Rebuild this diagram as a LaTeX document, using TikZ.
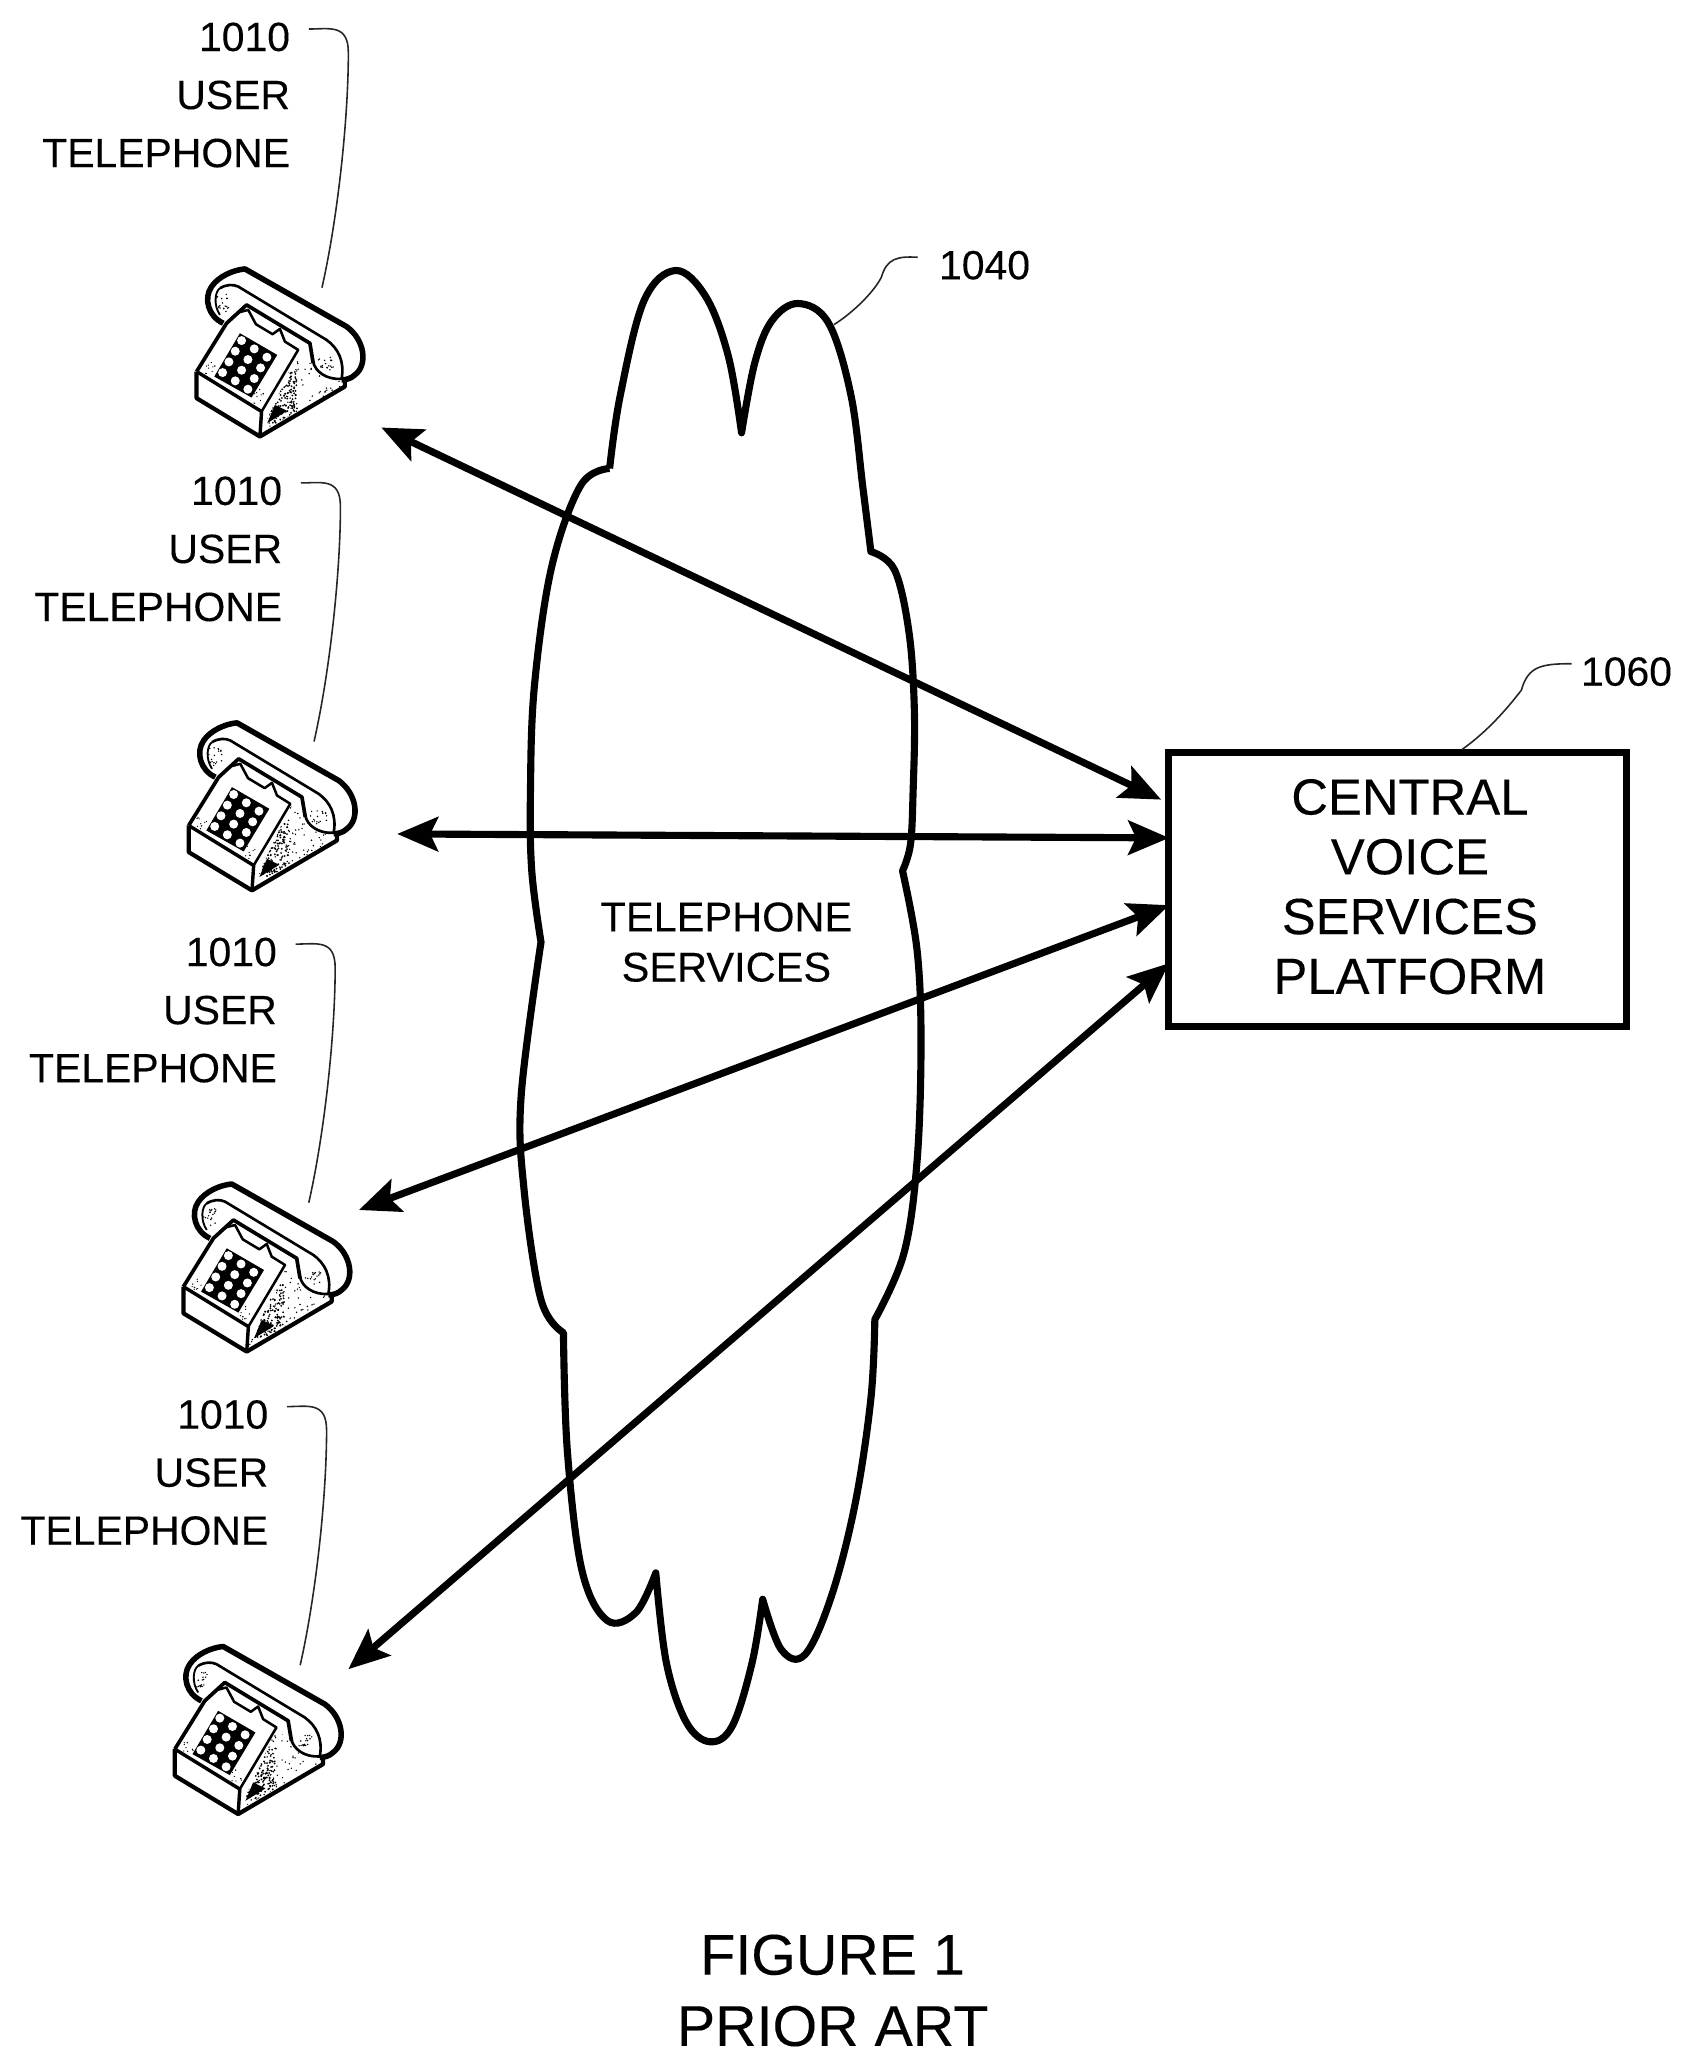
\documentclass[tikz,border=0pt]{standalone}
\usepackage{fontspec}
\setmainfont[FakeBold=0.2]{Liberation Sans}
\usetikzlibrary{arrows.meta}
\tikzset{
  lbl/.style={align=right,anchor=east,inner sep=0pt,font=\fontsize{31}{44}\selectfont},
  reftxt/.style={anchor=west,inner sep=0pt,font=\fontsize{31}{36}\selectfont},
  leader/.style={line width=1.2pt,black!85},
  dbl/.style={line width=5.4pt,{Stealth[length=31pt,width=26pt,inset=6pt]}-{Stealth[length=31pt,width=26pt,inset=6pt]}},
  platform/.style={draw,line width=5.4pt,minimum width=347pt,minimum height=208pt,inner sep=0pt,align=center,font=\fontsize{38.5}{45.3}\selectfont},
  phone/.pic={
    \begin{scope}[scale=0.2525]
      % shaded right face
      \begin{scope}
        \clip (275,530) -- (385,290) -- (430,330) -- (450,360) -- (515,378) -- (515,395) -- cycle;
        \foreach \k in {1,...,150}{
          \pgfmathsetmacro\ra{rnd}\pgfmathsetmacro\rb{rnd}
          \fill (275+240*\ra,290+240*\rb) circle (2.4pt);
        }
        \foreach \k in {1,...,170}{
          \pgfmathsetmacro\ra{rnd}\pgfmathsetmacro\rb{rnd}
          \fill (292+90*\ra,345+160*\rb) circle (3pt);
        }
      \end{scope}
      \fill (292,505) -- (315,450) -- (352,468) -- cycle;
      % faint specks on the dial panel and base
      \foreach \k in {1,...,10}{
        \pgfmathsetmacro\ra{rnd}\pgfmathsetmacro\rb{rnd}
        \fill (105+30*\ra,320+40*\rb) circle (2pt);
        \fill (250+30*\ra,400+50*\rb) circle (2pt);
      }
      % base
      \draw[line width=3.2pt,line join=round]
        (80,350) -- (80,430) -- (270,545) -- (525,395) -- (525,372);
      \draw[line width=2.8pt,line join=round]
        (80,350) -- (170,205) -- (230,150) -- (420,265) -- (430,325);
      \draw[line width=2.6pt,line join=round] (80,350) -- (275,470) -- (270,545);
      \draw[line width=1.9pt,line join=round] (275,470) -- (385,285) -- (345,260) -- (330,222) -- (308,238) -- (258,208) -- (235,165) -- (208,172) -- (190,185);
      % handset
      \draw[line width=4.2pt,line join=round]
        (160,205) .. controls (115,185) and (100,130) .. (125,95)
        .. controls (145,65) and (190,45) .. (225,42)
        -- (530,215) .. controls (585,255) and (595,330) .. (555,360)
        .. controls (545,370) and (530,375) .. (515,375);
      \draw[line width=2pt,line join=round]
        (150,100) .. controls (170,88) and (190,88) .. (205,95)
        -- (470,255) .. controls (505,280) and (525,320) .. (515,372)
        .. controls (470,375) and (435,350) .. (430,320);
      \draw[line width=1.4pt] (150,100) .. controls (135,110) and (130,150) .. (150,180);
      \foreach \k in {1,...,18}{
        \pgfmathsetmacro\ra{rnd}\pgfmathsetmacro\rb{rnd}
        \fill (140+40*\ra,115+55*\rb) circle (2.4pt);
        \fill (445+50*\ra,305+40*\rb) circle (2.4pt);
      }
      % keypad
      \fill[line join=round] (210,235) -- (322,300) -- (245,428) -- (133,365) -- cycle;
      \foreach \r in {0,...,3}{\foreach \c in {0,...,2}{
        \fill[white] (215+38*\c-19*\r,257+25*\c+32*\r) circle (13.5pt);
      }}
    \end{scope}
  }
}
\begin{document}
\begin{tikzpicture}[x=1pt,y=-1pt]
\useasboundingbox (0,0) rectangle (1280,1566.5);
\pgfmathsetseed{4711}

% cloud
\draw[line width=5.4pt,line join=round]
  plot[smooth,tension=0.6] coordinates {(462,355) (470,300) (488,228) (512,205) (535,225) (552,270) (562,328)}
  -- plot[smooth,tension=0.6] coordinates {(562,328) (572,275) (585,243) (605,230) (628,245) (645,300) (654,370) (660,418)}
  -- plot[smooth,tension=0.6] coordinates {(660,418) (678,432) (689,480) (693,540) (692,600) (690,640) (684,660)}
  -- plot[smooth,tension=0.6] coordinates {(684,660) (695,720) (698,790) (695,880) (685,950) (663,1000)}
  -- plot[smooth,tension=0.6] coordinates {(663,1000) (660,1060) (648,1140) (630,1210) (610,1254) (592,1250) (578,1212)}
  -- plot[smooth,tension=0.6] coordinates {(578,1212) (570,1260) (555,1308) (538,1320) (520,1305) (505,1260) (497,1192)}
  -- plot[smooth,tension=0.6] coordinates {(497,1192) (482,1222) (460,1228) (441,1190) (430,1100) (427,1010)}
  -- plot[smooth,tension=0.6] coordinates {(427,1010) (410,985) (397,900) (395,830) (410,714)}
  -- plot[smooth,tension=0.6] coordinates {(410,714) (403,660) (402,600) (405,520) (418,430) (440,368) (462,355)};
\node[inner sep=0pt,align=center,font=\fontsize{31.5}{38}\selectfont] (svc) at (550.5,714) {TELEPHONE\\SERVICES};

% telephones and their labels
\foreach \i/\dx/\dy in {1/0/0,2/-6/344,3/-10/693.5,4/-16.5/1044}{
  \begin{scope}[shift={(\dx,\dy)}]
    \node[lbl] (lab\i) at (220,72) {1010\\USER\\TELEPHONE};
    \coordinate (ls\i) at (234,22);
    \coordinate (le\i) at (244,218);
    \draw[leader] (ls\i) .. controls (250,22) and (264,18) .. (264,40)
      .. controls (264,90) and (256,165) .. (le\i);
    \pic at (128.8,193.2) {phone};
  \end{scope}
}

% platform
\node[platform] (cvsp) at (1059,674) {};
\node[inner sep=0pt,align=center,font=\fontsize{38.5}{45.3}\selectfont] (cvsptxt) at (1068.5,672) {CENTRAL\\VOICE\\SERVICES\\PLATFORM};

% arrow ends
\coordinate (t1) at (289,324); \coordinate (p1) at (880,606);
\coordinate (t2) at (301,632); \coordinate (p2) at (886,635);
\coordinate (t3) at (272,917); \coordinate (p3) at (886,686);
\coordinate (t4) at (264,1265); \coordinate (p4) at (886,730);
\draw[dbl] (t1) -- (p1);
\draw[dbl] (t2) -- (p2);
\draw[dbl] (t3) -- (p3);
\draw[dbl] (t4) -- (p4);

% reference numerals
\node[reftxt] (r1040) at (711.5,201) {1040};
\coordinate (c1040) at (632,246);
\draw[leader] (r1040.west) ++(-16,-6) .. controls (680,194) and (672,196) .. (668,210) .. controls (662,222) and (645,238) .. (c1040);
\node[reftxt] (r1060) at (1198,509) {1060};
\coordinate (c1060) at (1108,568);
\draw[leader] (r1060.west) ++(-7,-6) .. controls (1168,503) and (1158,505) .. (1153,523) .. controls (1140,540) and (1125,556) .. (c1060);

% caption
\node[inner sep=0pt,align=center,font=\fontsize{43.5}{54}\selectfont] (cap) at (631,1508.5) {FIGURE 1\\PRIOR ART};
\end{tikzpicture}
\end{document}
